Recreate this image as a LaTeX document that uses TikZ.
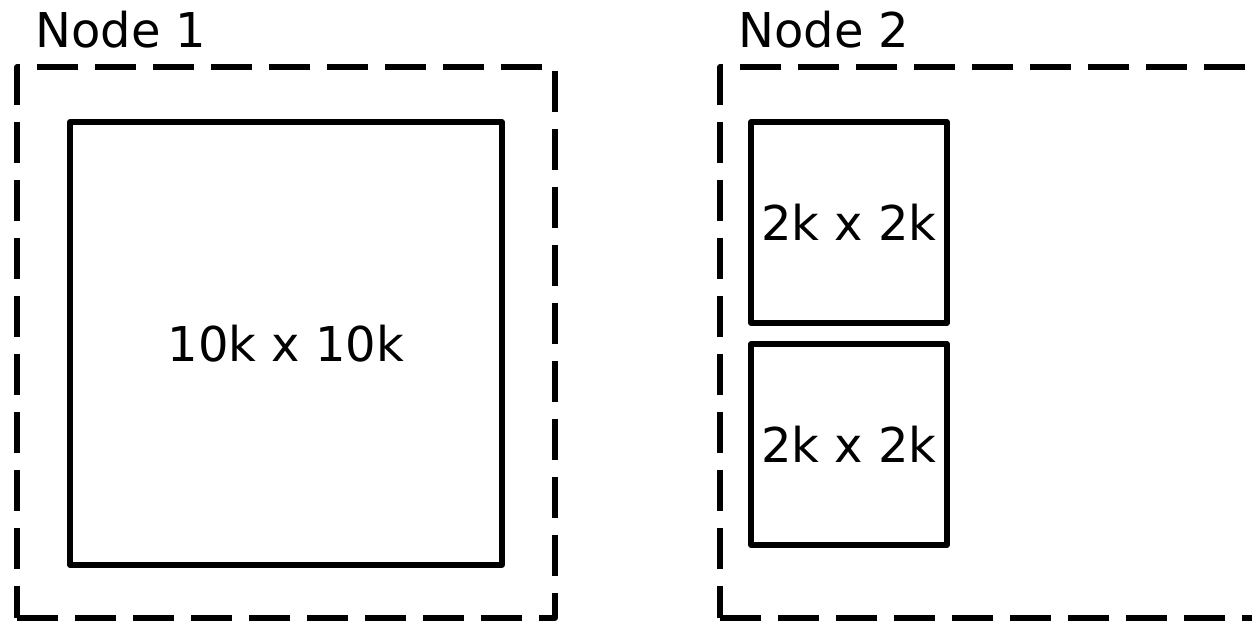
\documentclass[tikz,border=0pt]{standalone}
\usepackage{fontspec}
\setmainfont{DejaVu Sans}
\usetikzlibrary{positioning}

\begin{document}
\begin{tikzpicture}[
    x=0.02cm, y=-0.02cm,
    group/.style={rectangle, draw, line width=0.105cm, line join=round,
                  dash pattern=on 0.82cm off 0.34cm,
                  minimum width=10.76cm, minimum height=11.02cm, inner sep=0pt},
    block/.style={rectangle, draw, line width=0.105cm, line join=round,
                  inner sep=0pt, font=\fontsize{27.3}{32}\selectfont},
    lbl/.style={inner sep=0pt, anchor=base west, font=\fontsize{27.3}{32}\selectfont},
]
\clip (0,0) rectangle (1252,623);

% Node 1: one large block
\node[group] (grp1) at (286,342.5) {};
\node[lbl] (lbl1) at (35,47) {Node 1};
\node[block, minimum width=8.64cm, minimum height=8.86cm] (big) at (286,343.5) {10k x 10k};

% Node 2: two small blocks
\node[group] (grp2) at (989,342.5) {};
\node[lbl] (lbl2) at (738,47) {Node 2};
\node[block, minimum width=3.92cm, minimum height=4.02cm] (small1) at (849,222.5) {2k x 2k};
\node[block, minimum width=3.92cm, minimum height=4.02cm] (small2) at (849,444.5) {2k x 2k};
\end{tikzpicture}
\end{document}
